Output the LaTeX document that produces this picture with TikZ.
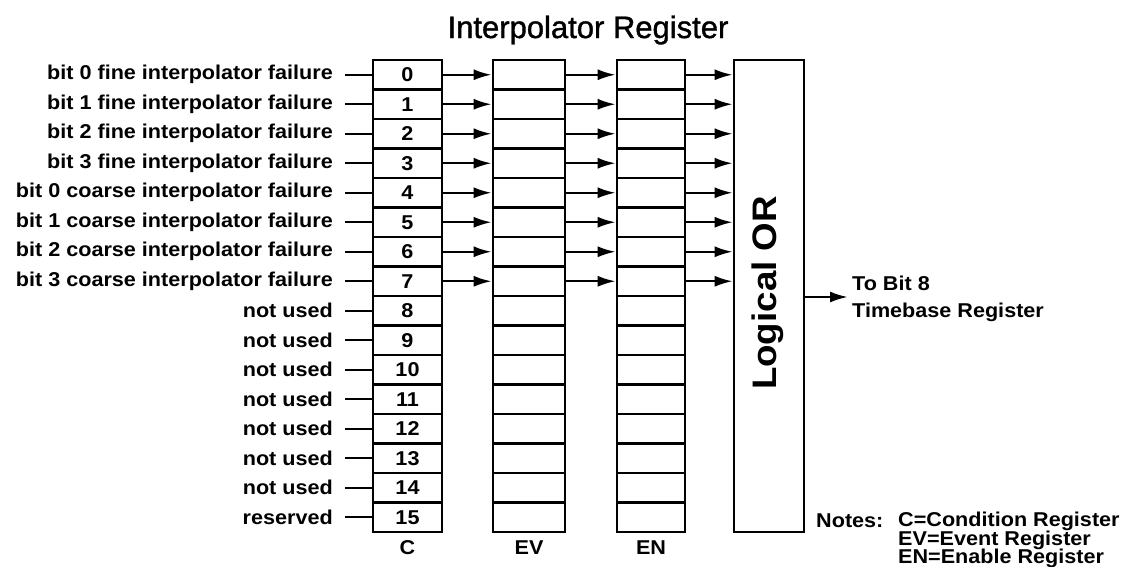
\documentclass[tikz,border=0pt]{standalone}
\usepackage{fontspec}
\setmainfont{Liberation Sans}
\newfontfamily\lblfont[FakeStretch=1.08]{Liberation Sans}
\newfontfamily\titlefont[FakeBold=1.2]{Liberation Sans}
\usetikzlibrary{arrows.meta}
\tikzset{
  lbl/.style={font=\lblfont\bfseries\fontsize{20}{22}\selectfont, inner sep=0pt},
  cell/.style={draw, line width=2.6pt, inner sep=0pt, minimum height=29.5pt, font=\lblfont\bfseries\fontsize{20}{22}\selectfont},
  ccell/.style={cell, minimum width=69pt},
  evcell/.style={cell, minimum width=72pt},
  encell/.style={cell, minimum width=68pt},
  wire/.style={line width=2.4pt},
  arr/.style={line width=2.4pt, -{Latex[length=18pt,width=11pt]}},
}
\begin{document}
\begin{tikzpicture}[x=1pt,y=-1pt]
\useasboundingbox (0,0) rectangle (1140,566);
\node[font=\titlefont\fontsize{31}{34}\selectfont, inner sep=0pt] (title) at (588,30) {Interpolator Register};
\foreach \i/\t in {0/bit 0 fine interpolator failure,1/bit 1 fine interpolator failure,2/bit 2 fine interpolator failure,3/bit 3 fine interpolator failure,4/bit 0 coarse interpolator failure,5/bit 1 coarse interpolator failure,6/bit 2 coarse interpolator failure,7/bit 3 coarse interpolator failure,8/not used,9/not used,10/not used,11/not used,12/not used,13/not used,14/not used,15/reserved}{
  \pgfmathsetmacro\yy{74.75+29.5*\i}
  \node[ccell] (c\i) at (407.5,\yy) {\i};
  \node[evcell] (ev\i) at (529,\yy) {};
  \node[encell] (en\i) at (651,\yy) {};
  \node[lbl, anchor=east] (l\i) at (333,\yy) {\t};
  \draw[wire, shorten <=12pt] (l\i.east) -- (c\i.west);
}
\node[draw, line width=2.6pt, minimum width=70pt, minimum height=472pt, inner sep=0pt] (or) at (769,296) {};
\node[rotate=90, font=\lblfont\bfseries\fontsize{34}{38}\selectfont, inner sep=0pt] (ortext) at (768,293) {Logical OR};
\foreach \i in {0,...,7}{
  \draw[arr] (c\i.east) -- (ev\i.west);
  \draw[arr] (ev\i.east) -- (en\i.west);
  \draw[arr] (en\i.east) -- (or.west |- en\i.east);
}
\coordinate (outend) at (848,297);
\draw[arr] (or.east |- outend) -- (outend);
\node[lbl, anchor=west] (tobit) at (852,283) {To Bit 8};
\node[lbl, anchor=west] (tbreg) at (852,312) {Timebase Register};
\node[lbl] (lc) at (407.5,548) {C};
\node[lbl] (lev) at (529,548) {EV};
\node[lbl] (len) at (651,548) {EN};
\node[lbl, anchor=west] (notes) at (816,521) {Notes:};
\node[lbl, anchor=west] (n1) at (898,521) {C=Condition Register};
\node[lbl, anchor=west] (n2) at (898,540) {EV=Event Register};
\node[lbl, anchor=west] (n3) at (898,558) {EN=Enable Register};
\end{tikzpicture}
\end{document}
